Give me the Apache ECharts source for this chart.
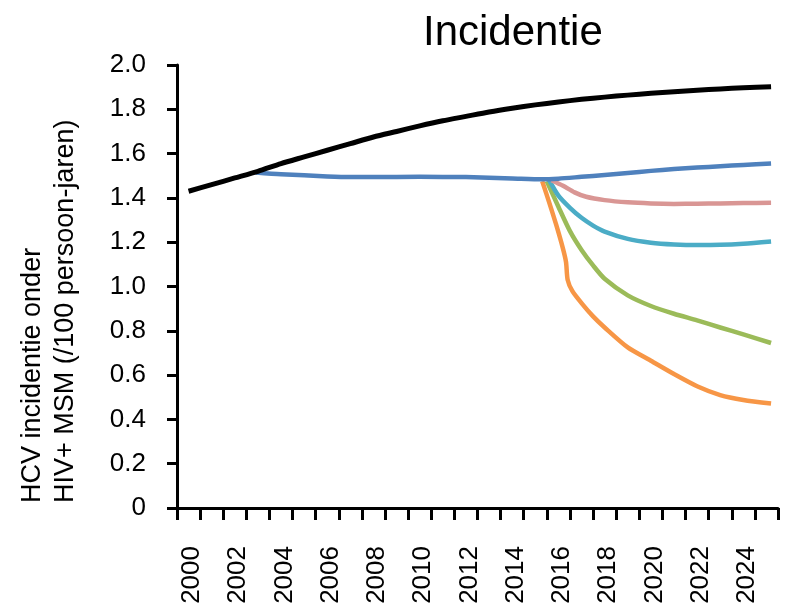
<!DOCTYPE html>
<html>
<head>
<meta charset="utf-8">
<script src="https://cdn.jsdelivr.net/npm/echarts@6/dist/echarts.min.js"></script>
<style>html,body{margin:0;padding:0;background:#fff}#c{width:789px;height:611px}</style>
</head>
<body>
<div id="c"></div>
<script>
var categories = ['2000','2001','2002','2003','2004','2005','2006','2007','2008','2009','2010','2011','2012','2013','2014','2015','2016','2017','2018','2019','2020','2021','2022','2023','2024','2025'];
var yTicks = [0,0.2,0.4,0.6,0.8,1.0,1.2,1.4,1.6,1.8,2.0];

var blackX = [2000,2001,2002,2003,2004,2005,2006,2007,2008,2009,2010,2011,2012,2013,2014,2015,2016,2017,2018,2019,2020,2021,2022,2023,2024,2025.2];
var blackY = [1.43,1.46,1.49,1.52,1.555,1.585,1.615,1.645,1.675,1.70,1.725,1.748,1.768,1.788,1.805,1.82,1.833,1.845,1.855,1.864,1.872,1.879,1.886,1.892,1.897,1.902];

var blueX = [2002.9,2004,2006,2007,2008,2010,2012,2014,2015.3,2016,2017,2018,2019,2020,2021,2022,2023,2024,2025.2];
var blueY = [1.515,1.507,1.497,1.494,1.494,1.495,1.494,1.488,1.484,1.487,1.495,1.503,1.512,1.522,1.530,1.537,1.543,1.549,1.555];

var pinkX = [2015.7,2016.2,2016.7,2017.2,2018,2019,2020,2021,2022,2023,2024,2025.2];
var pinkY = [1.48,1.455,1.425,1.405,1.39,1.38,1.375,1.373,1.374,1.375,1.377,1.378];

var cyanX = [2015.6,2016,2016.5,2017,2017.5,2018,2019,2020,2021,2022,2023,2024,2025.2];
var cyanY = [1.48,1.41,1.355,1.31,1.275,1.248,1.215,1.198,1.19,1.187,1.188,1.193,1.203];

var greenX = [2015.5,2016,2016.5,2017,2017.5,2018,2019,2020,2021,2022,2023,2024,2025.2];
var greenY = [1.475,1.36,1.25,1.165,1.095,1.035,0.96,0.912,0.877,0.847,0.815,0.784,0.745];

var orangeX = [2015.3,2015.6,2015.9,2016.2,2016.33,2016.4,2016.6,2017,2017.5,2018,2019,2020,2021,2022,2023,2024,2025.2];
var orangeY = [1.475,1.38,1.28,1.17,1.11,1.03,0.98,0.925,0.865,0.815,0.725,0.665,0.605,0.55,0.51,0.488,0.472];

var titleText = 'Incidentie';
var yName = 'HCV incidentie onder\nHIV+ MSM (/100 persoon-jaren)';

function pairs(xs, ys){ return xs.map(function(x,i){ return [x, ys[i]]; }); }
var FONT = '"Liberation Sans", Arial, sans-serif';

function mk(name, xs, ys, color, width){
  return { name: name, type: 'line', xAxisIndex: 1, yAxisIndex: 0, data: pairs(xs, ys),
    showSymbol: false, symbol: 'none', smooth: 0.25,
    lineStyle: { color: color, width: width, cap: 'butt', join: 'round' }, itemStyle: { color: color }, silent: true, animation: false };
}

var chart = echarts.init(document.getElementById('c'), null, { renderer: 'canvas' });
chart.setOption({
  backgroundColor: '#fff',
  animation: false,
  title: { text: titleText, left: 418, top: 7, textStyle: { fontSize: 42, fontWeight: 'normal', fontFamily: FONT, color: '#000' } },
  grid: { left: 177, right: 11, top: 65, bottom: 103, containLabel: false },
  graphic: [{
    type: 'text', x: 16, y: 503, rotation: Math.PI / 2,
    style: { text: yName, fontSize: 27, fontFamily: FONT, fill: '#000', align: 'left', verticalAlign: 'top', lineHeight: 33 }
  }],
  xAxis: [{
    type: 'category', data: categories, boundaryGap: true,
    axisLine: { show: true, lineStyle: { color: '#000', width: 3 } },
    axisTick: { show: true, interval: 0, length: 12, lineStyle: { color: '#000', width: 3 } },
    axisLabel: { interval: 1, rotate: 90, margin: 38, fontSize: 26, fontFamily: FONT, color: '#000', verticalAlign: 'top', lineHeight: 7 },
    splitLine: { show: false }
  }, {
    type: 'value', min: 1999.5, max: 2025.5, show: false
  }],
  yAxis: [{
    type: 'value', min: yTicks[0], max: yTicks[yTicks.length - 1], interval: 0.2,
    axisLine: { show: true, lineStyle: { color: '#000', width: 3 } },
    axisTick: { show: true, length: 10, lineStyle: { color: '#000', width: 3 } },
    axisLabel: { margin: 31, fontSize: 26, fontFamily: FONT, color: '#000',
      formatter: function(v){ return v === 0 ? '0' : v.toFixed(1); } },
    splitLine: { show: false }
  }],
  series: [
    mk('orange', orangeX, orangeY, '#f79646', 4.5),
    mk('green', greenX, greenY, '#9bbb59', 4.5),
    mk('cyan', cyanX, cyanY, '#4bacc6', 4.5),
    mk('pink', pinkX, pinkY, '#d99694', 4.5),
    mk('blue', blueX, blueY, '#4f81bd', 4.5),
    mk('black', blackX, blackY, '#000000', 5)
  ]
});
</script>
</body>
</html>
